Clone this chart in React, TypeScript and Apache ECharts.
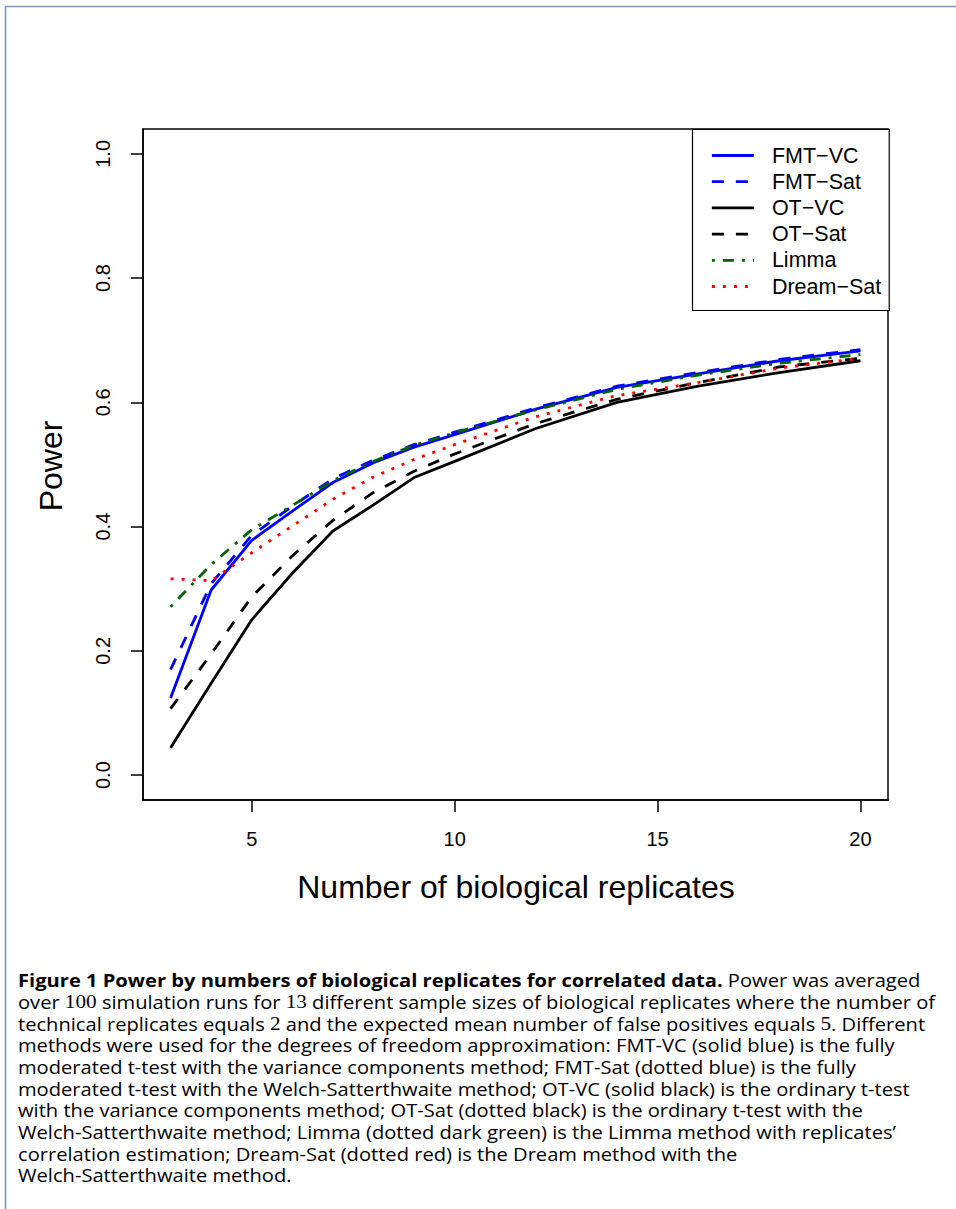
import React, { useEffect, useRef } from "react";
import * as echarts from "echarts";

// ---- data ----
const replicates = [3, 4, 5, 6, 7, 8, 9, 10, 12, 14, 16, 18, 20];
const fmtVC = [0.124, 0.298, 0.378, 0.425, 0.471, 0.503, 0.528, 0.548, 0.589, 0.624, 0.646, 0.667, 0.683];
const fmtSat = [0.170, 0.308, 0.386, 0.433, 0.477, 0.507, 0.532, 0.552, 0.591, 0.626, 0.648, 0.669, 0.685];
const otVC = [0.044, 0.148, 0.250, 0.325, 0.393, 0.435, 0.479, 0.505, 0.558, 0.600, 0.626, 0.648, 0.667];
const otSat = [0.107, 0.195, 0.287, 0.353, 0.410, 0.455, 0.489, 0.517, 0.566, 0.605, 0.632, 0.657, 0.671];
const limma = [0.271, 0.339, 0.395, 0.434, 0.474, 0.505, 0.531, 0.551, 0.588, 0.621, 0.644, 0.663, 0.677];
const dreamSat = [0.316, 0.313, 0.358, 0.401, 0.444, 0.480, 0.508, 0.532, 0.577, 0.611, 0.632, 0.655, 0.671];

const seriesNames = ["FMT−VC", "FMT−Sat", "OT−VC", "OT−Sat", "Limma", "Dream−Sat"];
const seriesValues = [fmtVC, fmtSat, otVC, otSat, limma, dreamSat];
const seriesColors = ["#0000FF", "#0000FF", "#000000", "#000000", "#006400", "#FF0000"];
const seriesDash: (number[] | "solid")[] = ["solid", [12, 12], "solid", [12, 12], [3, 8, 11, 8], [3, 8]];

const xTicks = [5, 10, 15, 20];
const yTicks = [0, 0.2, 0.4, 0.6, 0.8, 1.0];
const xTitle = "Number of biological replicates";
const yTitle = "Power";

const captionLines = [
  "{b|Figure 1 Power by numbers of biological replicates for correlated data.} Power was averaged",
  "over {n|100} simulation runs for {n|13} different sample sizes of biological replicates where the number of",
  "technical replicates equals {n|2} and the expected mean number of false positives equals {n|5}. Different",
  "methods were used for the degrees of freedom approximation: FMT-VC (solid blue) is the fully",
  "moderated t-test with the variance components method; FMT-Sat (dotted blue) is the fully",
  "moderated t-test with the Welch-Satterthwaite method; OT-VC (solid black) is the ordinary t-test",
  "with the variance components method; OT-Sat (dotted black) is the ordinary t-test with the",
  "Welch-Satterthwaite method; Limma (dotted dark green) is the Limma method with replicates’",
  "correlation estimation; Dream-Sat (dotted red) is the Dream method with the",
  "Welch-Satterthwaite method.",
];

const SANS = '"Liberation Sans", Arial, Helvetica, sans-serif';
const CAP_FONT = '"Open Sans", "Liberation Sans", sans-serif';
const CAP_SIZE = 18.3;

// horizontal squeeze so the widest caption lines fit the reference's measure
function fitCaptionScale(): number {
  try {
    const c = document.createElement("canvas").getContext("2d");
    if (!c) return 0.96;
    c.font = `${CAP_SIZE}px "Open Sans"`;
    const strip = (s: string) => s.replace(/\{[a-z]+\|([^}]*)\}/g, "$1");
    const w2 = c.measureText(strip(captionLines[1])).width;
    const w6 = c.measureText(strip(captionLines[5])).width;
    if (!w2 || !w6) return 0.96;
    return Math.min(936 / w6, 930 / w2, 1.1);
  } catch {
    return 0.96;
  }
}

export default function App() {
  const ref = useRef<HTMLDivElement>(null);

  useEffect(() => {
    if (!ref.current) return;
    const chart = echarts.init(ref.current, null, { renderer: "svg" });
    const capScale = fitCaptionScale();

    const series = seriesNames.map((name, i) => ({
      name,
      type: "line",
      data: replicates.map((x, j) => [x, seriesValues[i][j]]),
      symbol: "none",
      showSymbol: false,
      silent: true,
      z: 2 + i,
      lineStyle: {
        color: seriesColors[i],
        width: 2.8,
        type: seriesDash[i],
        cap: "butt",
      },
      itemStyle: { color: seriesColors[i] },
    }));

    const graphics: any[] = [
      // page frame
      { type: "line", shape: { x1: 5, y1: 6.5, x2: 956, y2: 6.5 }, style: { stroke: "#7d98bd", lineWidth: 1.6 } },
      { type: "line", shape: { x1: 5.5, y1: 6, x2: 5.5, y2: 1209 }, style: { stroke: "#7d98bd", lineWidth: 1.6 } },
      // axis titles
      {
        type: "text",
        x: 516,
        y: 887,
        style: { text: xTitle, font: `32px ${SANS}`, fill: "#000", align: "center", verticalAlign: "middle" },
      },
      {
        type: "text",
        x: 51,
        y: 466,
        rotation: Math.PI / 2,
        style: { text: yTitle, font: `32px ${SANS}`, fill: "#000", align: "center", verticalAlign: "middle" },
      },
    ];

    captionLines.forEach((line, i) => {
      graphics.push({
        type: "text",
        x: 18,
        y: 980 + i * 21.7,
        scaleX: capScale,
        style: {
          text: line,
          fontFamily: CAP_FONT,
          fontSize: CAP_SIZE,
          lineHeight: 20,
          fill: "#000",
          align: "left",
          verticalAlign: "middle",
          rich: {
            b: { fontFamily: CAP_FONT, fontSize: CAP_SIZE, lineHeight: 20, fontWeight: "bold", fill: "#000" },
            n: {
              fontFamily: '"Liberation Serif", "DejaVu Serif", serif',
              fontSize: CAP_SIZE + 1,
              lineHeight: 20,
              fill: "#000",
            },
          },
        },
      });
    });

    const option: any = {
      animation: false,
      backgroundColor: "#ffffff",
      grid: {
        left: 143,
        top: 129,
        width: 745,
        height: 671,
        show: true,
        borderColor: "#000",
        borderWidth: 1.5,
        backgroundColor: "transparent",
        containLabel: false,
      },
      xAxis: {
        type: "value",
        min: 2.32,
        max: 20.68,
        axisLine: { show: true, onZero: false, lineStyle: { color: "#000", width: 1.5 } },
        axisTick: { show: true, customValues: xTicks, length: 12, lineStyle: { color: "#000", width: 1.5 } },
        axisLabel: {
          show: true,
          customValues: xTicks,
          margin: 29,
          fontSize: 20,
          fontFamily: SANS,
          color: "#000",
        },
        splitLine: { show: false },
      },
      yAxis: {
        type: "value",
        min: -0.04,
        max: 1.04,
        axisLine: { show: true, onZero: false, lineStyle: { color: "#000", width: 1.5 } },
        axisTick: { show: true, customValues: yTicks, length: 12, lineStyle: { color: "#000", width: 1.5 } },
        axisLabel: {
          show: true,
          customValues: yTicks,
          rotate: 90,
          margin: 30,
          fontSize: 20,
          fontFamily: SANS,
          color: "#000",
          formatter: (v: number) => v.toFixed(1),
        },
        splitLine: { show: false },
      },
      legend: {
        show: true,
        data: seriesNames,
        orient: "vertical",
        left: 692.5,
        top: 129.5,
        itemWidth: 42,
        itemHeight: 20,
        itemGap: 4.2,
        padding: [15, 8, 13, 18],
        borderColor: "#000",
        borderWidth: 1.2,
        backgroundColor: "#fff",
        selectedMode: false,
        itemStyle: { opacity: 0 },
        lineStyle: { width: 2.8 },
        textStyle: { fontSize: 21.5, fontFamily: SANS, color: "#000", padding: [0, 0, 0, 13] },
      },
      series,
      graphic: graphics,
    };

    chart.setOption(option);
    return () => chart.dispose();
  }, []);

  return (
    <div
      ref={ref}
      style={{ position: "fixed", left: 0, top: 0, width: 956, height: 1209, background: "#fff" }}
    />
  );
}
